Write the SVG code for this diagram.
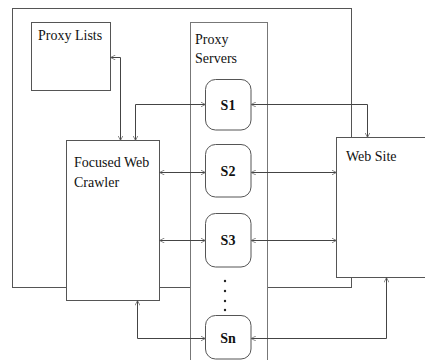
<svg xmlns="http://www.w3.org/2000/svg" width="425" height="360" viewBox="0 0 425 360">
<defs>
<style>
.box{fill:#fff;stroke:#555;stroke-width:1}
.ps{fill:#fff;stroke:#777;stroke-width:1}
.srv{fill:#fff;stroke:#555;stroke-width:1}
.lbl{font-family:"Liberation Serif","Times New Roman",serif;font-size:14px;fill:#111}
.s{font-family:"Liberation Serif","Times New Roman",serif;font-size:14px;font-weight:bold;fill:#111;text-anchor:middle}
.c{fill:none;stroke:#444;stroke-width:1}
</style>
<marker id="a" viewBox="0 0 10 10" refX="10" refY="5" markerWidth="5" markerHeight="5" orient="auto-start-reverse" markerUnits="userSpaceOnUse">
<path d="M0,0 L10,5 L0,10" fill="none" stroke="#666" stroke-width="1.5"/>
</marker>
</defs>
<rect width="425" height="360" fill="#fff"/>
<g id="outer">
<rect x="12.5" y="8.5" width="339" height="279" fill="none" stroke="#555"/>
</g>
<g id="proxy-lists">
<rect class="box" x="31.5" y="22.5" width="79" height="68"/>
<text class="lbl" x="38" y="40">Proxy Lists</text>
</g>
<g id="proxy-servers">
<rect class="ps" x="190.5" y="22.5" width="77" height="345"/>
<text class="lbl" x="195" y="44">Proxy</text>
<text class="lbl" x="195" y="63">Servers</text>
</g>
<g id="crawler">
<rect class="box" x="66.5" y="140.5" width="93" height="160"/>
<text class="lbl" x="74" y="167">Focused Web</text>
<text class="lbl" x="74" y="187">Crawler</text>
</g>
<g id="web-site">
<rect class="box" x="336.5" y="137.5" width="100" height="140"/>
<text class="lbl" x="346" y="161">Web Site</text>
</g>
<g id="s1">
<rect class="srv" x="205.5" y="79.5" width="45.5" height="50.5" rx="10"/>
<text class="s" x="228" y="110">S1</text>
</g>
<g id="s2">
<rect class="srv" x="205.5" y="144.5" width="45.5" height="52.5" rx="10"/>
<text class="s" x="228" y="176">S2</text>
</g>
<g id="s3">
<rect class="srv" x="205.5" y="213.5" width="45.5" height="53.5" rx="10"/>
<text class="s" x="228" y="245">S3</text>
</g>
<g id="dots" fill="#222">
<circle cx="225" cy="281" r="1.2"/>
<circle cx="225" cy="291" r="1.2"/>
<circle cx="225" cy="301" r="1.2"/>
<circle cx="225" cy="310" r="1.2"/>
</g>
<g id="sn">
<rect class="srv" x="205.5" y="315.5" width="45.5" height="43.5" rx="10"/>
<text class="s" x="228" y="343">Sn</text>
</g>
<g id="connectors">
<path class="c" d="M110.5,57.5 H120.5 V140.5" marker-start="url(#a)" marker-end="url(#a)"/>
<path class="c" d="M205.5,104.5 H135.5 V140.5" marker-start="url(#a)" marker-end="url(#a)"/>
<path class="c" d="M251,104.5 H367.5 V137.5" marker-start="url(#a)" marker-end="url(#a)"/>
<path class="c" d="M159.5,172.5 H205.5" marker-start="url(#a)" marker-end="url(#a)"/>
<path class="c" d="M251,172.5 H336.5" marker-start="url(#a)" marker-end="url(#a)"/>
<path class="c" d="M159.5,240.5 H205.5" marker-start="url(#a)" marker-end="url(#a)"/>
<path class="c" d="M251,240.5 H336.5" marker-start="url(#a)" marker-end="url(#a)"/>
<path class="c" d="M137.5,300.5 V338.5 H205.5" marker-start="url(#a)" marker-end="url(#a)"/>
<path class="c" d="M251,338.5 H386.5 V277.5" marker-start="url(#a)" marker-end="url(#a)"/>
</g>
</svg>
